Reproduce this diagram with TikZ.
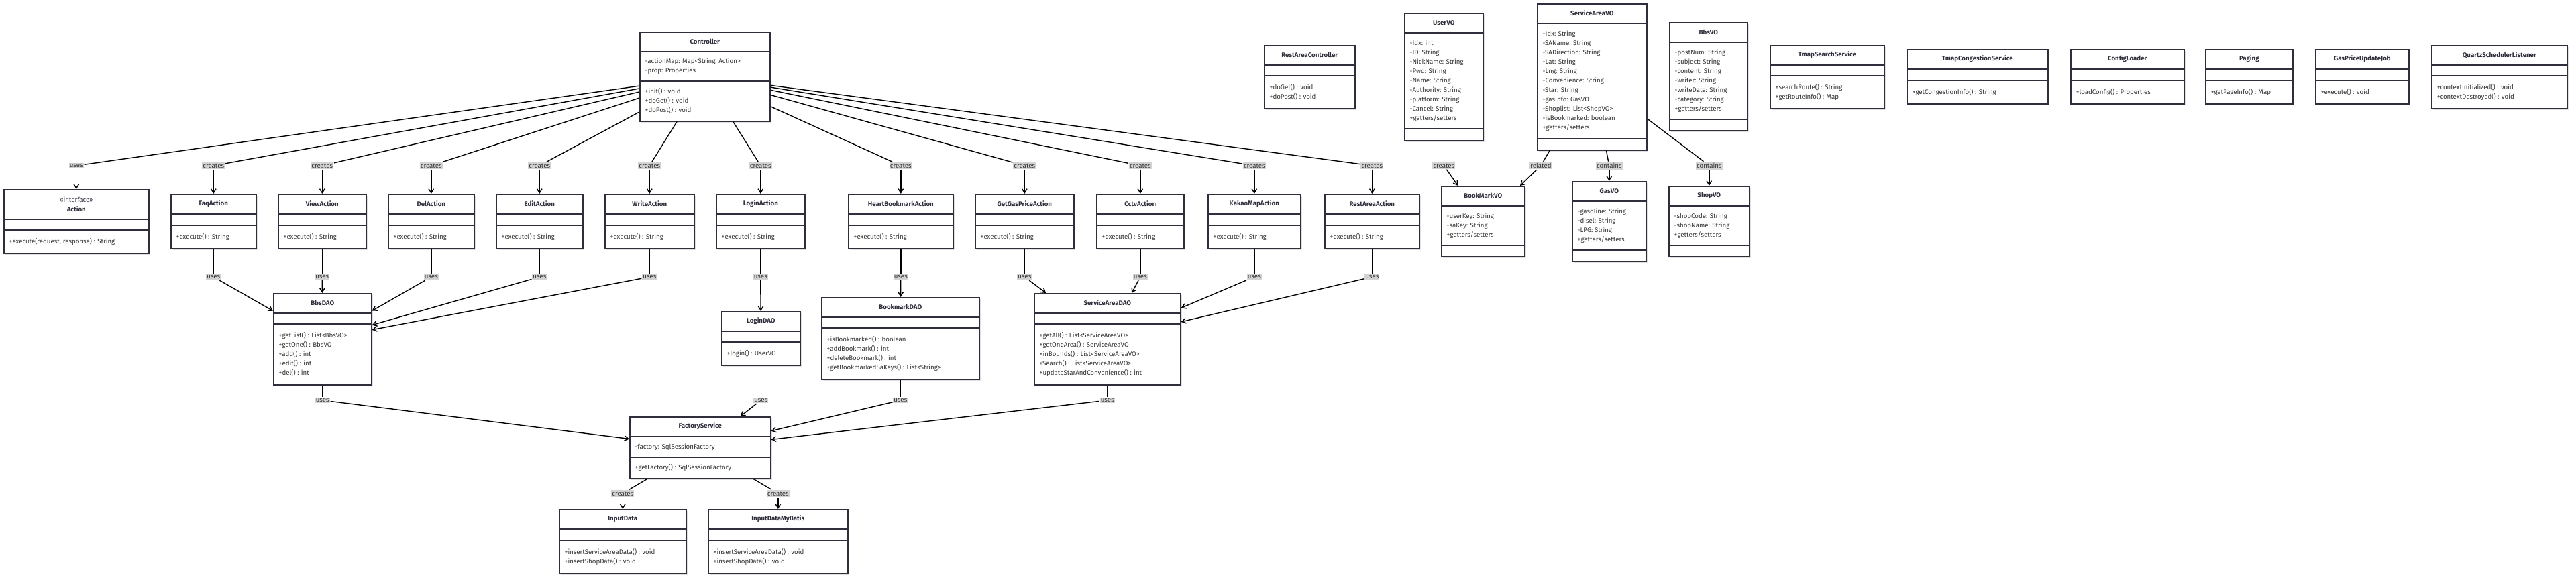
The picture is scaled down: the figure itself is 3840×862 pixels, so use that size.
\documentclass[tikz,border=0pt]{standalone}
\usepackage{fontspec}
\setmainfont{Fira Sans}
\usetikzlibrary{calc,arrows.meta,shadows}
\definecolor{boxline}{HTML}{2E2E3C}
\definecolor{lblfill}{HTML}{D3D3D3}
\definecolor{txtcol}{HTML}{333333}
\tikzset{
  classbox/.style={draw=boxline, fill=white, line width=0.45pt, anchor=north west, inner sep=0pt,
    drop shadow={shadow xshift=0.025cm, shadow yshift=-0.025cm, fill=black, opacity=0.12}},
  titletext/.style={font=\fontsize{2.75}{3.98}\selectfont\bfseries, text=boxline, align=center, inner sep=0pt},
  membertext/.style={font=\fontsize{2.75}{3.98}\selectfont, text=txtcol, align=left, anchor=west, inner sep=0pt},
  edgelabel/.style={fill=lblfill, text=txtcol, font=\fontsize{2.75}{3.3}\selectfont, inner xsep=0.012cm, inner ysep=0.018cm},
  conn/.style={draw=black, line width=0.4pt},
  tip/.style={-{Straight Barb[length=0.06cm,width=0.075cm]}}
}
% header height of a class box, in px
\def\hdr{30}
% class box: (name)(left,top)(width:attr height:method height){title}{attributes}{methods}
\def\umlclass(#1)(#2,#3)(#4:#5:#6)#7#8#9{%
  \node[classbox, minimum width={#4*0.01cm}, minimum height={(\hdr+#5+#6)*0.01cm}] (#1) at (#2,#3) {};
  \draw[boxline, line width=0.45pt] ($(#1.north west)+(0,\hdr)$) -- ++(#4,0);
  \draw[boxline, line width=0.45pt] ($(#1.north west)+(0,\hdr+#5)$) -- ++(#4,0);
  \node[titletext] (#1-t) at ($(#1.north)+(0,\hdr/2)$) {#7};
  \node[membertext] (#1-a) at ($(#1.north west)+(8,\hdr+#5/2)$) {#8};
  \node[membertext] (#1-m) at ($(#1.north west)+(8,\hdr+#5+#6/2)$) {#9};
}
% relation through a label: (from)(to)(label name)(label position){text}
\def\relation(#1)(#2)(#3)(#4)#5{%
  \node[edgelabel] (#3) at (#4) {#5};
  \draw[conn] (#1) -- (#3);
  \draw[conn, tip] (#3) -- (#2);
}

\begin{document}
\begin{tikzpicture}[x=0.01cm, y=-0.01cm]
				%%%%% START %%%%%
				\fill[white] (0,0) rectangle (3840,862);
				\useasboundingbox (0,0) rectangle (3840,862);

				\umlclass(ctrl)(953,47)(194:44:59){Controller}{-actionMap: Map<String, Action>\\-prop: Properties}{+init() : void\\+doGet() : void\\+doPost() : void}

				\def\hdr{45}
				\umlclass(action)(5,282)(216:16:34){\mdseries «interface»\\\bfseries Action}{}{+execute(request, response) : String}
				\def\hdr{30}
				\umlclass(faq)(254,289)(127:17:34){FaqAction}{}{+execute() : String}
				\umlclass(view)(414,289)(131:17:34){ViewAction}{}{+execute() : String}
				\umlclass(del)(578,289)(128:17:34){DelAction}{}{+execute() : String}
				\umlclass(edit)(739,289)(129:17:34){EditAction}{}{+execute() : String}
				\umlclass(write)(901,289)(133:17:34){WriteAction}{}{+execute() : String}
				\umlclass(login)(1067,289)(132:17:34){LoginAction}{}{+execute() : String}
				\umlclass(heart)(1264,289)(156:17:34){HeartBookmarkAction}{}{+execute() : String}
				\umlclass(getgas)(1453,289)(147:17:34){GetGasPriceAction}{}{+execute() : String}
				\umlclass(cctv)(1634,289)(130:17:34){CctvAction}{}{+execute() : String}
				\umlclass(kakao)(1800,289)(138:17:34){KakaoMapAction}{}{+execute() : String}
				\umlclass(restarea)(1974,289)(141:17:34){RestAreaAction}{}{+execute() : String}

				\umlclass(restctrl)(1884,67)(135:16:48){RestAreaController}{}{+doGet() : void\\+doPost() : void}
				\umlclass(uservo)(2093,19)(117:143:17){UserVO}{-Idx: int\\-ID: String\\-NickName: String\\-Pwd: String\\-Name: String\\-Authority: String\\-platform: String\\-Cancel: String\\+getters/setters}{}
				\umlclass(savo)(2291,5)(163:172:16){ServiceAreaVO}{-Idx: String\\-SAName: String\\-SADirection: String\\-Lat: String\\-Lng: String\\-Convenience: String\\-Star: String\\-gasInfo: GasVO\\-Shoplist: List<ShopVO>\\-isBookmarked: boolean\\+getters/setters}{}
				\umlclass(bbsvo)(2488,33)(116:115:16){BbsVO}{-postNum: String\\-subject: String\\-content: String\\-writer: String\\-writeDate: String\\-category: String\\+getters/setters}{}
				\umlclass(bookmarkvo)(2148,277)(124:59:16){BookMarkVO}{-userKey: String\\-saKey: String\\+getters/setters}{}
				\umlclass(gasvo)(2343,270)(110:73:16){GasVO}{-gasoline: String\\-disel: String\\-LPG: String\\+getters/setters}{}
				\umlclass(shopvo)(2487,277)(120:59:16){ShopVO}{-shopCode: String\\-shopName: String\\+getters/setters}{}

				\umlclass(tmapsearch)(2638,67)(170:16:48){TmapSearchService}{}{+searchRoute() : String\\+getRouteInfo() : Map}
				\umlclass(tmapcong)(2842,73)(210:17:34){TmapCongestionService}{}{+getCongestionInfo() : String}
				\umlclass(config)(3086,73)(169:17:34){ConfigLoader}{}{+loadConfig() : Properties}
				\umlclass(paging)(3287,73)(130:17:34){Paging}{}{+getPageInfo() : Map}
				\umlclass(gasjob)(3451,73)(139:17:34){GasPriceUpdateJob}{}{+execute() : void}
				\umlclass(quartz)(3624,67)(202:16:48){QuartzSchedulerListener}{}{+contextInitialized() : void\\+contextDestroyed() : void}

				\umlclass(bbsdao)(407,437)(146:16:90){BbsDAO}{}{+getList() : List<BbsVO>\\+getOne() : BbsVO\\+add() : int\\+edit() : int\\+del() : int}
				\umlclass(logindao)(1075,464)(117:16:34){LoginDAO}{}{+login() : UserVO}
				\umlclass(bookmarkdao)(1224,443)(235:16:76){BookmarkDAO}{}{+isBookmarked() : boolean\\+addBookmark() : int\\+deleteBookmark() : int\\+getBookmarkedSaKeys() : List<String>}
				\umlclass(sadao)(1541,437)(218:16:90){ServiceAreaDAO}{}{+getAll() : List<ServiceAreaVO>\\+getOneArea() : ServiceAreaVO\\+inBounds() : List<ServiceAreaVO>\\+Search() : List<ServiceAreaVO>\\+updateStarAndConvenience() : int}

				\umlclass(factory)(938,621)(210:31:31){FactoryService}{-factory: SqlSessionFactory}{+getFactory() : SqlSessionFactory}
				\umlclass(inputdata)(833,759)(189:17:48){InputData}{}{+insertServiceAreaData() : void\\+insertShopData() : void}
				\umlclass(inputmb)(1055,759)(208:17:48){InputDataMyBatis}{}{+insertServiceAreaData() : void\\+insertShopData() : void}

				% controller to actions
				\relation(ctrl)(action)(c-action)(action |- 0,247){uses}
				\relation(ctrl)(faq)(c-faq)(faq |- 0,247){creates}
				\relation(ctrl)(view)(c-view)(view |- 0,247){creates}
				\relation(ctrl)(del)(c-del)(del |- 0,247){creates}
				\relation(ctrl)(edit)(c-edit)(edit |- 0,247){creates}
				\relation(ctrl)(write)(c-write)(write |- 0,247){creates}
				\relation(ctrl)(login)(c-login)(login |- 0,247){creates}
				\relation(ctrl)(heart)(c-heart)(heart |- 0,247){creates}
				\relation(ctrl)(getgas)(c-getgas)(getgas |- 0,247){creates}
				\relation(ctrl)(cctv)(c-cctv)(cctv |- 0,247){creates}
				\relation(ctrl)(kakao)(c-kakao)(kakao |- 0,247){creates}
				\relation(ctrl)(restarea)(c-restarea)(restarea |- 0,247){creates}

				% actions to daos
				\relation(faq)(bbsdao)(u-faq)(faq |- 0,413){uses}
				\relation(view)(bbsdao)(u-view)(view |- 0,413){uses}
				\relation(del)(bbsdao)(u-del)(del |- 0,413){uses}
				\relation(edit)(bbsdao)(u-edit)(edit |- 0,413){uses}
				\relation(write)(bbsdao)(u-write)(write |- 0,413){uses}
				\relation(login)(logindao)(u-login)(login |- 0,413){uses}
				\relation(heart)(bookmarkdao)(u-heart)(heart |- 0,413){uses}
				\relation(getgas)(sadao)(u-getgas)(getgas |- 0,413){uses}
				\relation(cctv)(sadao)(u-cctv)(cctv |- 0,413){uses}
				\relation(kakao)(sadao)(u-kakao)(kakao |- 0,413){uses}
				\relation(restarea)(sadao)(u-restarea)(restarea |- 0,413){uses}

				% daos to factory
				\relation(bbsdao)(factory)(u-bbsdao)(bbsdao |- 0,597){uses}
				\relation(logindao)(factory)(u-logindao)(logindao |- 0,597){uses}
				\relation(bookmarkdao)(factory)(u-bookmarkdao)(bookmarkdao |- 0,597){uses}
				\relation(sadao)(factory)(u-sadao)(sadao |- 0,597){uses}
				\relation(factory)(inputdata)(c-inputdata)(inputdata |- 0,736){creates}
				\relation(factory)(inputmb)(c-inputmb)(inputmb |- 0,736){creates}

				% value objects
				\relation(uservo)(bookmarkvo)(c-uservo)(uservo |- 0,247){creates}
				\relation(savo)(bookmarkvo)(r-savo)(2297,247){related}
				\relation(savo)(gasvo)(h-gasvo)(gasvo |- 0,247){contains}
				\relation(savo)(shopvo)(h-shopvo)(shopvo |- 0,247){contains}
				%%%%% START %%%%%
\end{tikzpicture}
\end{document}
